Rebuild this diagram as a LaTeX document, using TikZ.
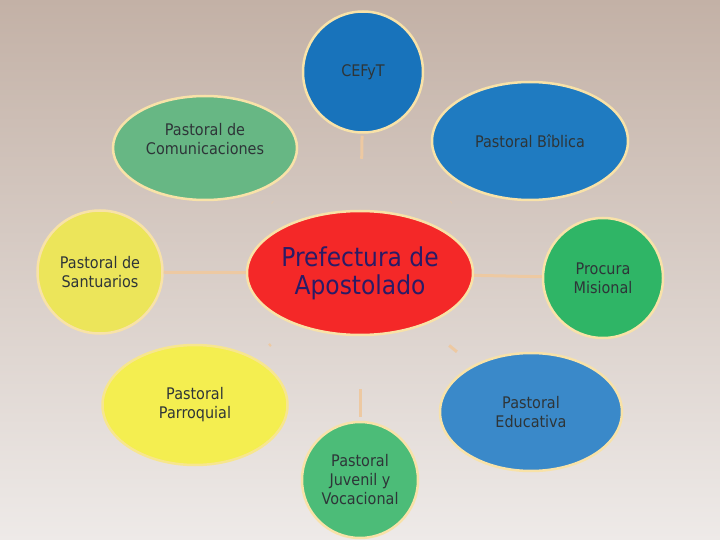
\documentclass[tikz,border=0pt]{standalone}
\usepackage{fontspec}
\setmainfont{DejaVu Sans}[FakeStretch=0.9]
\usetikzlibrary{shapes.geometric}
\definecolor{bgtop}{HTML}{C3B1A6}
\definecolor{bgbot}{HTML}{EEEAE8}
\definecolor{rim}{HTML}{F8E2A8}
\definecolor{conn}{HTML}{EDC9A2}
\definecolor{txt}{HTML}{2E3538}
\definecolor{ctxt}{HTML}{2A1B66}
\definecolor{cefyt}{HTML}{1873BB}
\definecolor{biblica}{HTML}{1F7BC1}
\definecolor{comun}{HTML}{67B784}
\definecolor{centro}{HTML}{F42828}
\definecolor{santu}{HTML}{ECE55A}
\definecolor{procura}{HTML}{2FB566}
\definecolor{parroq}{HTML}{F4EE50}
\definecolor{educ}{HTML}{3A89C9}
\definecolor{juven}{HTML}{4CBC78}
\tikzset{
  bubble/.style={ellipse, draw=rim, line width=2.5pt, inner sep=0pt,
    align=center, text=txt, font=\fontsize{16}{19}\selectfont},
  link/.style={draw=conn, line width=3pt},
  faint/.style={draw=conn, line width=3pt, opacity=0.45}
}
\begin{document}
\begin{tikzpicture}[x=1pt,y=-1pt]
\shade[top color=bgtop, bottom color=bgbot] (0,0) rectangle (720,540);
\useasboundingbox (0,0) rectangle (720,540);

\node[bubble, fill=centro, minimum width=226pt, minimum height=124pt,
      text=ctxt, font=\fontsize{26}{28}\selectfont] (c) at (360,273) {Prefectura de\\Apostolado};
\node[bubble, fill=cefyt, minimum width=120pt, minimum height=121pt] (cef) at (363,72) {CEFyT};
\node[bubble, fill=comun, minimum width=184pt, minimum height=104pt] (com) at (205,148) {Pastoral de\\Comunicaciones\\\mbox{}};
\node[bubble, fill=biblica, minimum width=196pt, minimum height=118pt] (bib) at (530,141) {Pastoral B\^{\i}blica};
\node[bubble, fill=santu, minimum width=125pt, minimum height=123pt] (san) at (100,272) {Pastoral de\\Santuarios};
\node[bubble, fill=procura, minimum width=120pt, minimum height=120pt] (pro) at (603,278) {Procura\\Misional};
\node[bubble, fill=parroq, draw=rim!70!parroq, minimum width=185pt, minimum height=120pt] (par) at (195,405) {Pastoral\\Parroquial};
\node[bubble, fill=educ, minimum width=182pt, minimum height=118pt] (edu) at (531,412) {Pastoral\\Educativa};
\node[bubble, fill=juven, minimum width=116pt, minimum height=116pt] (juv) at (360,480) {Pastoral\\Juvenil y\\Vocacional};

\path[link] (c) -- (san);
\path[link] (c) -- (pro);
\path[link, shorten <=51pt, shorten >=2pt] (c) -- (cef);
\path[link, shorten <=53pt, shorten >=4pt] (c) -- (juv);
\path[link, shorten <=31pt, shorten >=19pt] (c) -- (par);
\path[link, shorten <=32pt, shorten >=21pt] (c) -- (edu);
\path[faint, shorten <=29pt, shorten >=17pt] (c) -- (com);
\path[faint, shorten <=31pt, shorten >=22pt] (c) -- (bib);
\end{tikzpicture}
\end{document}
